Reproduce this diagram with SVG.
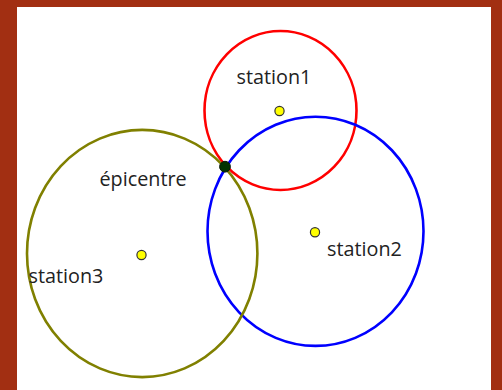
<svg xmlns="http://www.w3.org/2000/svg" width="502" height="390" viewBox="0 0 502 390">
<style>
.ring{fill:none;stroke-width:2.6}
.dot{fill:#ffff00;stroke:#333;stroke-width:1.2}
.lbl{font-family:"Open Sans","DejaVu Sans",sans-serif;font-size:19.8px;fill:#222}
</style>
<rect x="0" y="0" width="502" height="390" fill="#a22f12"/>
<rect x="17" y="7" width="474" height="383" fill="#ffffff"/>
<g id="station1">
<ellipse class="ring" cx="280.5" cy="110.5" rx="76" ry="79.5" stroke="#ff0000"/>
<circle class="dot" cx="279.5" cy="111" r="4.6"/>
<text class="lbl" x="236.5" y="83.5">station1</text>
</g>
<g id="station2">
<ellipse class="ring" cx="315.5" cy="231.3" rx="108" ry="114.6" stroke="#0000ff"/>
<circle class="dot" cx="315" cy="232.3" r="4.6"/>
<text class="lbl" x="327" y="255.7">station2</text>
</g>
<g id="station3">
<ellipse class="ring" cx="142.2" cy="253.5" rx="115.2" ry="123.6" stroke="#808000"/>
<circle class="dot" cx="141.5" cy="255" r="4.6"/>
<text class="lbl" x="28.5" y="283.3">station3</text>
</g>
<g id="epicentre">
<circle cx="225" cy="166.7" r="5.4" fill="#013301" stroke="#0a1a0a" stroke-width="1"/>
<text class="lbl" x="99.5" y="186">épicentre</text>
</g>
</svg>
